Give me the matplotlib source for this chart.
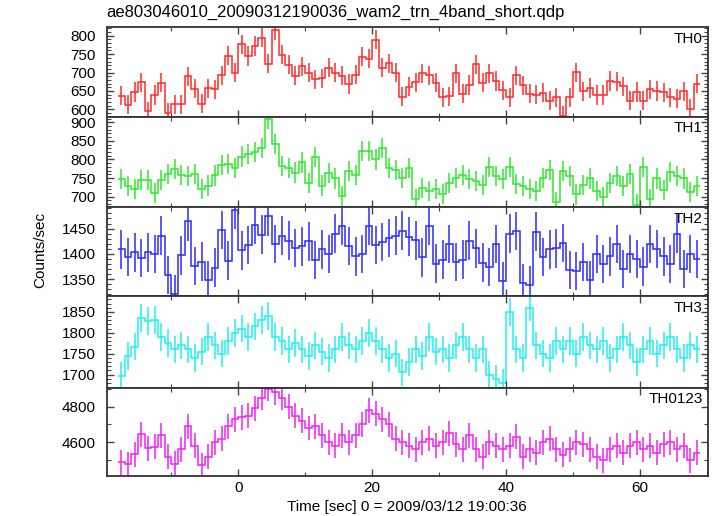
import numpy as np
import matplotlib
matplotlib.use('Agg')
import matplotlib.pyplot as plt
from matplotlib.ticker import MultipleLocator

plt.rcParams['font.family'] = ['Liberation Sans', 'DejaVu Sans']

# %% data: 1 s bins, left edges -18 ... 68
th0 = [637, 612, 647, 674, 595, 639, 672, 590, 614, 614,
       690, 656, 615, 657, 654, 692, 746, 700, 777, 745,
       772, 795, 724, 815, 748, 721, 691, 717, 699, 682,
       685, 713, 700, 691, 669, 694, 743, 738, 789, 713,
       725, 700, 634, 662, 674, 698, 693, 672, 633, 636,
       698, 643, 666, 723, 672, 698, 677, 652, 633, 692,
       665, 642, 640, 645, 624, 633, 582, 633, 701, 649,
       658, 639, 639, 677, 675, 663, 623, 647, 624, 655,
       650, 646, 633, 629, 649, 602, 670]
th1 = [747, 728, 721, 745, 744, 710, 744, 760, 774, 758,
       756, 760, 720, 730, 757, 785, 788, 777, 808, 815,
       820, 832, 908, 841, 782, 776, 765, 792, 737, 806,
       730, 763, 749, 702, 769, 759, 823, 823, 800, 831,
       776, 771, 750, 777, 693, 723, 715, 721, 708, 736,
       750, 758, 748, 742, 731, 780, 756, 748, 780, 735,
       728, 721, 716, 750, 771, 685, 769, 755, 706, 731,
       749, 715, 698, 737, 755, 728, 760, 679, 781, 693,
       749, 717, 767, 755, 749, 713, 728]
th2 = [1409, 1394, 1403, 1392, 1403, 1400, 1436, 1358, 1320, 1397,
       1464, 1376, 1385, 1348, 1373, 1447, 1387, 1487, 1407, 1418,
       1457, 1438, 1474, 1420, 1436, 1426, 1412, 1415, 1425, 1388,
       1409, 1400, 1440, 1455, 1416, 1395, 1400, 1456, 1418, 1424,
       1431, 1436, 1446, 1434, 1427, 1393, 1456, 1381, 1389, 1420,
       1384, 1389, 1426, 1411, 1383, 1374, 1420, 1347, 1440, 1445,
       1343, 1338, 1444, 1394, 1409, 1411, 1422, 1368, 1366, 1384,
       1349, 1400, 1380, 1395, 1420, 1370, 1400, 1390, 1375, 1420,
       1410, 1395, 1380, 1440, 1370, 1400, 1390]
th3 = [1697, 1745, 1767, 1835, 1828, 1831, 1790, 1775, 1760,
       1770, 1760, 1740, 1755, 1790, 1770, 1750, 1780, 1800, 1810,
       1790, 1815, 1830, 1840, 1790, 1780, 1760, 1775, 1760, 1745,
       1770, 1755, 1740, 1760, 1790, 1770, 1760, 1780, 1800, 1780,
       1760, 1740, 1750, 1705, 1730, 1760, 1745, 1790, 1755, 1760,
       1740, 1770, 1790, 1760, 1740, 1760, 1700, 1690, 1680, 1850,
       1760, 1740, 1860, 1770, 1750, 1740, 1780, 1760, 1780, 1750,
       1790, 1770, 1760, 1780, 1740, 1760, 1790, 1770, 1730, 1760,
       1780, 1750, 1770, 1790, 1760, 1740, 1770, 1760]
th0123 = [4488, 4476, 4533, 4645, 4566, 4575, 4640, 4520, 4480,
          4560, 4690, 4580, 4470, 4520, 4600, 4620, 4690, 4730, 4740,
          4750, 4790, 4850, 4900, 4880, 4850, 4800, 4750, 4720, 4680,
          4690, 4640, 4600, 4580, 4640, 4600, 4640, 4700, 4780, 4760,
          4730, 4700, 4620, 4600, 4580, 4560, 4600, 4620, 4580, 4600,
          4650, 4590, 4560, 4640, 4560, 4520, 4600, 4580, 4560, 4580,
          4630, 4520, 4560, 4540, 4600, 4620, 4560, 4530, 4560, 4600,
          4590, 4560, 4520, 4500, 4560, 4580, 4540, 4580, 4600, 4560,
          4580, 4540, 4590, 4600, 4560, 4580, 4500, 4540]

series = [th0, th1, th2, th3, th0123]
names = ['TH0', 'TH1', 'TH2', 'TH3', 'TH0123']
errs = [26, 27, 38, 33, 70]
colors = ['#ff2a2a', '#2ee82e', '#2a2aff', '#1ef0f0', '#f020f0']
ylims = [(580, 823), (671.5, 915), (1317, 1492), (1669, 1888), (4411, 4907)]
majors = [50, 50, 50, 50, 200]
minors = [10, 10, 10, 10, 100]

title = 'ae803046010_20090312190036_wam2_trn_4band_short.qdp'

# %% layout (pixels of a 717x516 canvas)
W, H = 717, 516
left, right = 106.7, 707.7
bounds = [(27.3, 116.7), (116.7, 207.3), (207.3, 296.0), (296.0, 387.5), (387.5, 476.0)]

fig = plt.figure(figsize=(W / 100, H / 100), dpi=100)
for i, (top, bot) in enumerate(bounds):
    ax = fig.add_axes([left / W, 1 - bot / H, (right - left) / W, (bot - top) / H])
    vals = np.array(series[i], dtype=float)
    n = len(vals)
    edges = np.arange(-18, -18 + n + 1)
    centers = edges[:-1] + 0.5
    ax.stairs(vals, edges, baseline=None, color=colors[i], lw=1.1)
    ax.errorbar(centers, vals, yerr=errs[i], fmt='none', ecolor=colors[i], elinewidth=1.1)
    ax.set_xlim(-19.66, 70.1)
    ax.set_ylim(*ylims[i])
    ax.xaxis.set_major_locator(MultipleLocator(20))
    ax.xaxis.set_minor_locator(MultipleLocator(10))
    ax.yaxis.set_major_locator(MultipleLocator(majors[i]))
    ax.yaxis.set_minor_locator(MultipleLocator(minors[i]))
    ax.tick_params(which='both', direction='in', top=True, right=True, color='#444444',
                   labelsize=11)
    ax.tick_params(which='major', length=5, width=1)
    ax.tick_params(which='minor', length=3, width=0.8)
    ax.tick_params(axis='y', pad=8)
    if i < len(bounds) - 1:
        ax.tick_params(labelbottom=False)
    for sp in ax.spines.values():
        sp.set_linewidth(1.3)
        sp.set_color('#333333')
    ax.text(0.992, 0.95, names[i], transform=ax.transAxes, ha='right', va='top', fontsize=11)

fig.text(left / W, 1 - 12 / H, title, ha='left', va='center', fontsize=12)
fig.text(40 / W, 1 - 250 / H, 'Counts/sec', rotation=90, ha='center', va='center', fontsize=11)
fig.text((left + right) / 2 / W, 1 - 507 / H, 'Time [sec] 0 = 2009/03/12 19:00:36',
         ha='center', va='center', fontsize=11)

fig.savefig('out.png', dpi=100)
